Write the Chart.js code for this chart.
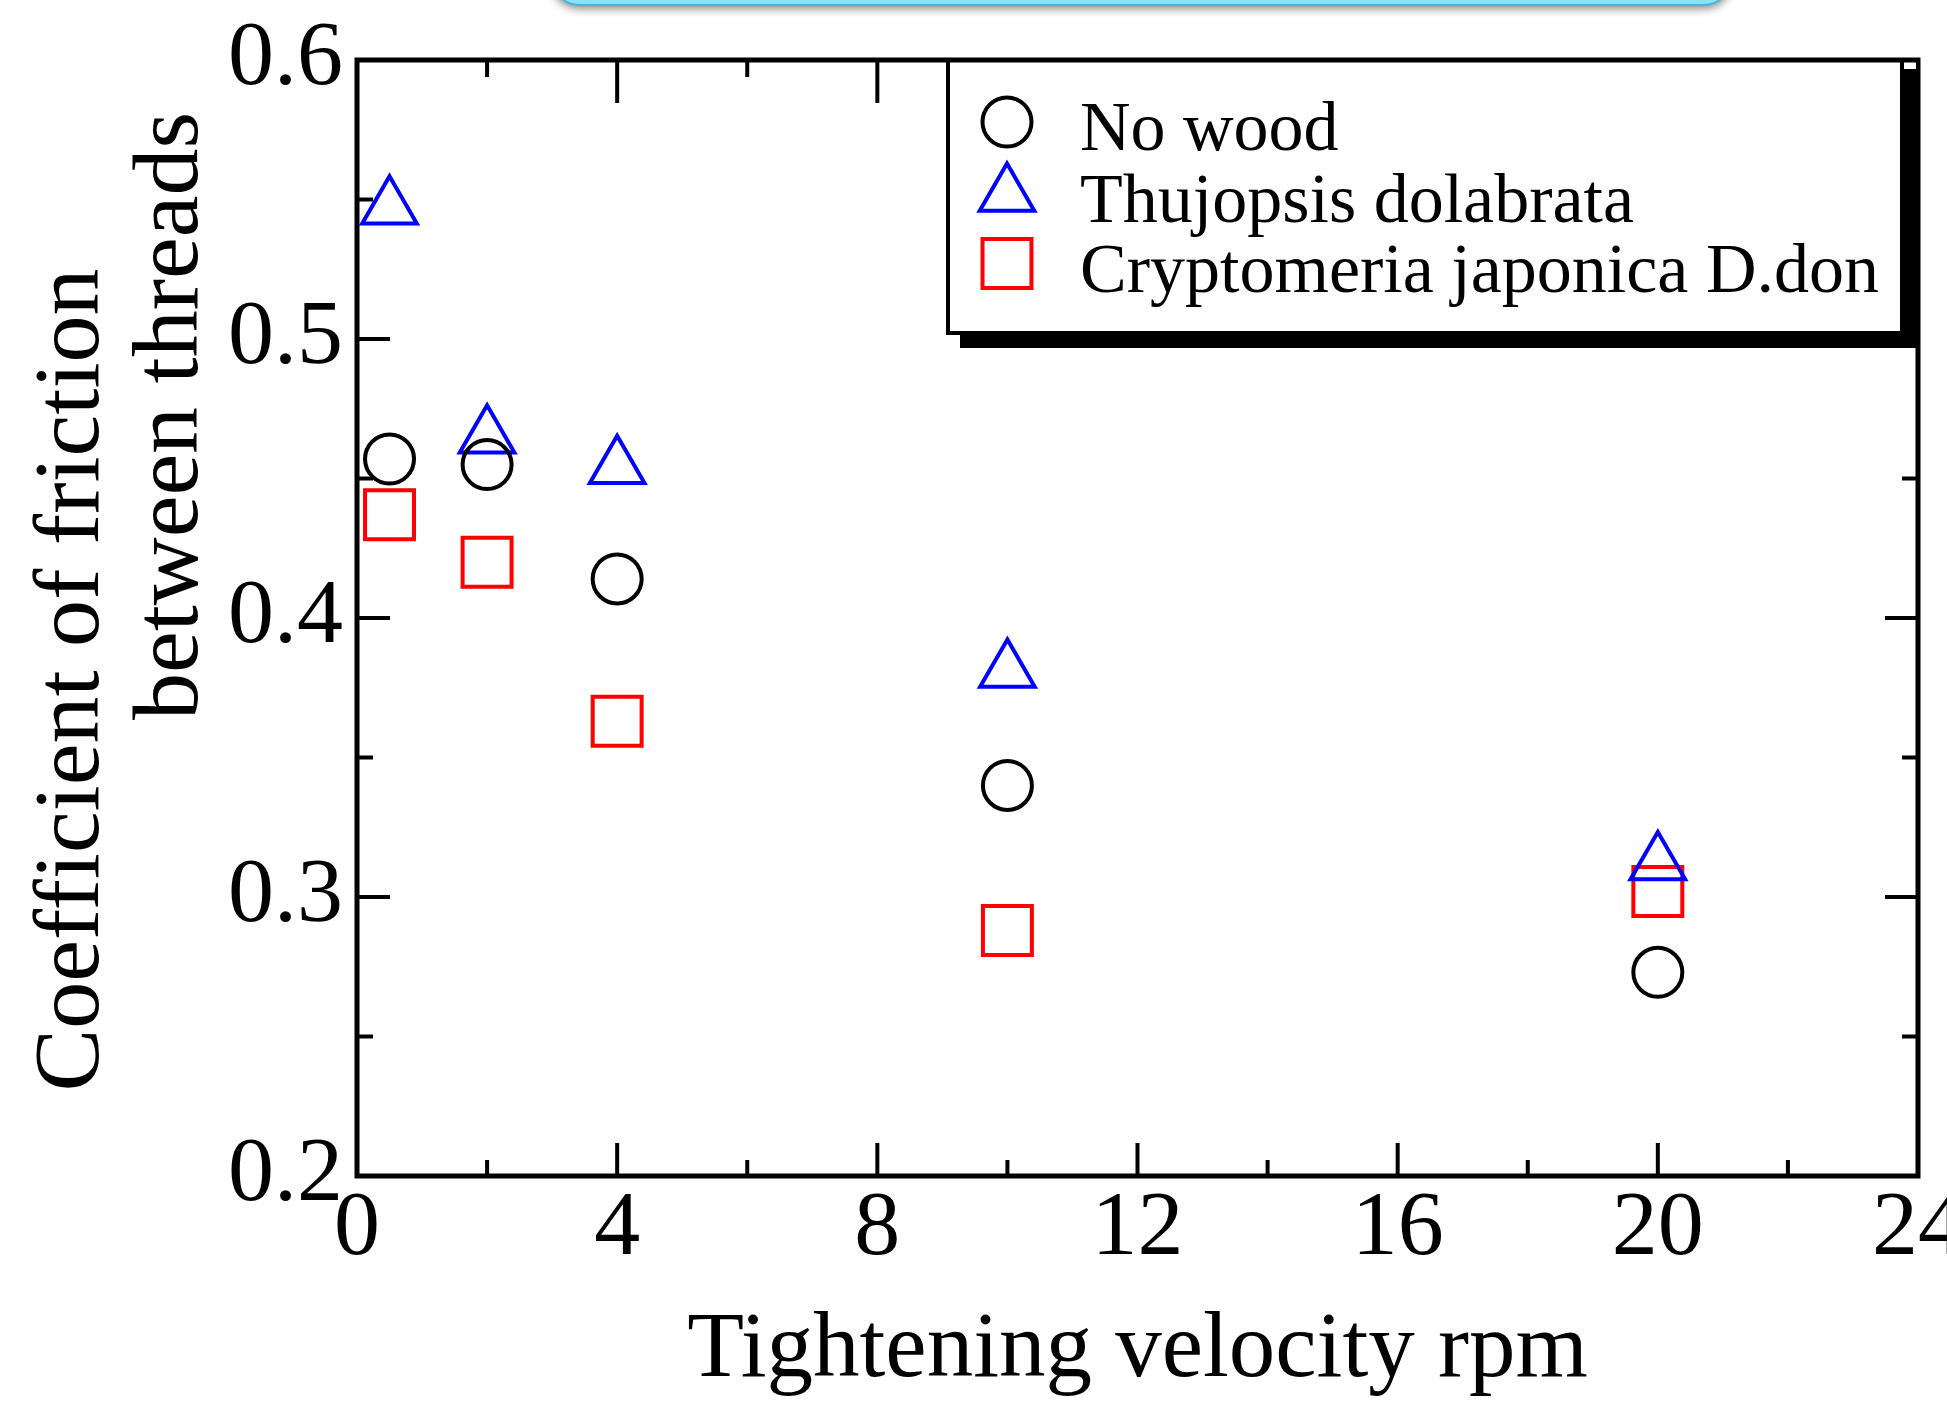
<!DOCTYPE html>
<html lang="en">
<head>
	<meta charset="UTF-8">
	<title>Coefficient of friction between threads</title>
	<script src="https://cdn.jsdelivr.net/npm/chart.js@4.4.1/dist/chart.umd.min.js"></script>
	<style>
		html, body { margin: 0; padding: 0; background: #fff; }
	</style>
</head>
<body>

	<canvas id="frictionChart" width="1947" height="1407"></canvas>

	<script>
	// tightening velocity (rpm) of each measurement
	var velocity = [0.5, 2, 4, 10, 20];

	// coefficient of friction for each series
	var noWood = [0.457, 0.455, 0.414, 0.340, 0.273];
	var thujopsis = [0.547, 0.465, 0.454, 0.381, 0.312];
	var cryptomeria = [0.437, 0.420, 0.363, 0.288, 0.302];

	var seriesNames = ["No wood", "Thujopsis dolabrata", "Cryptomeria japonica D.don"];

	// axis ticks
	var xTicks = [0, 4, 8, 12, 16, 20, 24];
	var xMinorTicks = [2, 6, 10, 14, 18, 22];
	var yTicks = [0.2, 0.3, 0.4, 0.5, 0.6];
	var yMinorTicks = [0.25, 0.35, 0.45, 0.55];

	var xTitle = "Tightening velocity rpm";
	var yTitle = ["Coefficient of friction", "between threads"];

	var serif = "'Liberation Serif', 'Times New Roman', Times, serif";

	function toPoints(values) {
		var pts = [];
		for (var i = 0; i < velocity.length; i++) {
			pts.push({x: velocity[i], y: values[i]});
		}
		return pts;
	}

	function setTicks(list) {
		return function(scale) {
			scale.ticks = list.map(function(v) { return {value: v}; });
		};
	}

	// frame, inward ticks, legend box and the y title
	var decorations = {
		id: 'decorations',
		beforeDraw: function(chart) {
			var ctx = chart.ctx;
			ctx.save();
			ctx.fillStyle = '#fff';
			ctx.fillRect(0, 0, chart.width, chart.height);
			// cut off banner at the very top
			ctx.shadowColor = 'rgba(0,0,0,0.45)';
			ctx.shadowBlur = 8;
			ctx.shadowOffsetY = 4;
			ctx.beginPath();
			ctx.roundRect(550, -80, 1183, 85, 30);
			ctx.fillStyle = '#8fe2f6';
			ctx.fill();
			ctx.shadowColor = 'rgba(0,0,0,0)';
			ctx.lineWidth = 2;
			ctx.strokeStyle = '#4db4d8';
			ctx.stroke();
			ctx.restore();
		},
		afterDatasetsDraw: function(chart) {
			var ctx = chart.ctx;
			var area = chart.chartArea;
			var xs = chart.scales.x, ys = chart.scales.y;
			ctx.save();
			ctx.strokeStyle = '#000';
			ctx.lineWidth = 4;

			function tickX(v, len, topLen) {
				var px = xs.getPixelForValue(v);
				ctx.beginPath();
				ctx.moveTo(px, area.bottom); ctx.lineTo(px, area.bottom - len);
				ctx.moveTo(px, area.top); ctx.lineTo(px, area.top + topLen);
				ctx.stroke();
			}
			function tickY(v, len) {
				var py = ys.getPixelForValue(v);
				ctx.beginPath();
				ctx.moveTo(area.left, py); ctx.lineTo(area.left + len, py);
				ctx.moveTo(area.right, py); ctx.lineTo(area.right - len, py);
				ctx.stroke();
			}
			xTicks.forEach(function(v) { tickX(v, 33, 43); });
			xMinorTicks.forEach(function(v) { tickX(v, 16, 17); });
			yTicks.forEach(function(v) { tickY(v, 33); });
			yMinorTicks.forEach(function(v) { tickY(v, 16); });

			// legend with a hard shadow
			var lg = {left: 948, top: 60, right: 1902, bottom: 333};
			ctx.fillStyle = '#000';
			ctx.fillRect(lg.left + 12, lg.top + 9, lg.right - lg.left + 4, lg.bottom - lg.top + 6);
			ctx.fillRect(lg.left + 12, lg.bottom, lg.right - lg.left + 4, 15);
			ctx.fillStyle = '#fff';
			ctx.fillRect(lg.left, lg.top, lg.right - lg.left, lg.bottom - lg.top);
			ctx.strokeRect(lg.left, lg.top, lg.right - lg.left, lg.bottom - lg.top);

			var symY = [122, 195, 263.5];
			var textY = [150, 222, 292];
			ctx.font = '70px ' + serif;
			ctx.textBaseline = 'alphabetic';
			ctx.textAlign = 'left';
			chart.data.datasets.forEach(function(ds, i) {
				ctx.strokeStyle = ds.pointBorderColor;
				ctx.fillStyle = 'rgba(0,0,0,0)';
				ctx.lineWidth = ds.pointBorderWidth;
				Chart.helpers.drawPoint(ctx, {pointStyle: ds.pointStyle, radius: ds.pointRadius, borderWidth: ds.pointBorderWidth, rotation: 0}, 1007, symY[i]);
				ctx.fillStyle = '#000';
				ctx.fillText(ds.label, 1080, textY[i]);
			});

			// plot frame
			ctx.strokeStyle = '#000';
			ctx.lineWidth = 5;
			ctx.strokeRect(area.left, area.top, area.right - area.left, area.bottom - area.top);
			ctx.fillStyle = '#fff';
			ctx.fillRect(1907, 63, 9, 6);

			// two line y title
			ctx.fillStyle = '#000';
			ctx.font = '94px ' + serif;
			ctx.textAlign = 'center';
			ctx.translate(98, 680);
			ctx.rotate(-Math.PI / 2);
			ctx.fillText(yTitle[0], 0, 0);
			ctx.fillText(yTitle[1], 264, 99);
			ctx.restore();
		}
	};

	var ctx = document.getElementById('frictionChart').getContext('2d');

	var frictionChart = new Chart(ctx, {
		type: 'scatter',
		data: {
			datasets: [{
				label: seriesNames[0],
				data: toPoints(noWood),
				pointStyle: 'circle',
				pointRadius: 24.5,
				pointHoverRadius: 24.5,
				pointBorderWidth: 4,
				pointBorderColor: '#000000',
				pointBackgroundColor: 'rgba(0,0,0,0)'
			}, {
				label: seriesNames[1],
				data: toPoints(thujopsis),
				pointStyle: 'triangle',
				pointRadius: 31.5,
				pointHoverRadius: 31.5,
				pointBorderWidth: 4,
				pointBorderColor: '#0000ff',
				pointBackgroundColor: 'rgba(0,0,0,0)'
			}, {
				label: seriesNames[2],
				data: toPoints(cryptomeria),
				pointStyle: 'rect',
				pointRadius: 34.6,
				pointHoverRadius: 34.6,
				pointBorderWidth: 4,
				pointBorderColor: '#ff0000',
				pointBackgroundColor: 'rgba(0,0,0,0)'
			}]
		},
		options: {
			responsive: false,
			animation: false,
			devicePixelRatio: 1,
			clip: false,
			layout: {
				autoPadding: false,
				padding: {top: 60, right: 29, left: 0, bottom: 0}
			},
			plugins: {
				legend: {display: false},
				tooltip: {enabled: false}
			},
			scales: {
				x: {
					type: 'linear',
					min: 0,
					max: 24,
					afterBuildTicks: setTicks(xTicks),
					afterFit: function(scale) {
						scale.height = 231;
						scale.paddingLeft = 0;
						scale.paddingRight = 0;
					},
					grid: {display: false, drawTicks: false},
					border: {display: false},
					ticks: {
						autoSkip: false,
						maxRotation: 0,
						padding: 8,
						color: '#000',
						font: {family: serif, size: 92, lineHeight: 1}
					},
					title: {
						display: true,
						text: xTitle,
						color: '#000',
						font: {family: serif, size: 93, lineHeight: 1},
						padding: {top: 0, bottom: 9}
					}
				},
				y: {
					type: 'linear',
					min: 0.2,
					max: 0.6,
					afterBuildTicks: setTicks(yTicks),
					afterFit: function(scale) {
						scale.width = 357;
						scale.paddingTop = 0;
						scale.paddingBottom = 0;
					},
					grid: {display: false, drawTicks: false},
					border: {display: false},
					ticks: {
						padding: 14,
						color: '#000',
						font: {family: serif, size: 92, lineHeight: 1},
						callback: function(value) { return value.toFixed(1); }
					}
				}
			}
		},
		plugins: [decorations]
	});
	</script>

</body>
</html>
